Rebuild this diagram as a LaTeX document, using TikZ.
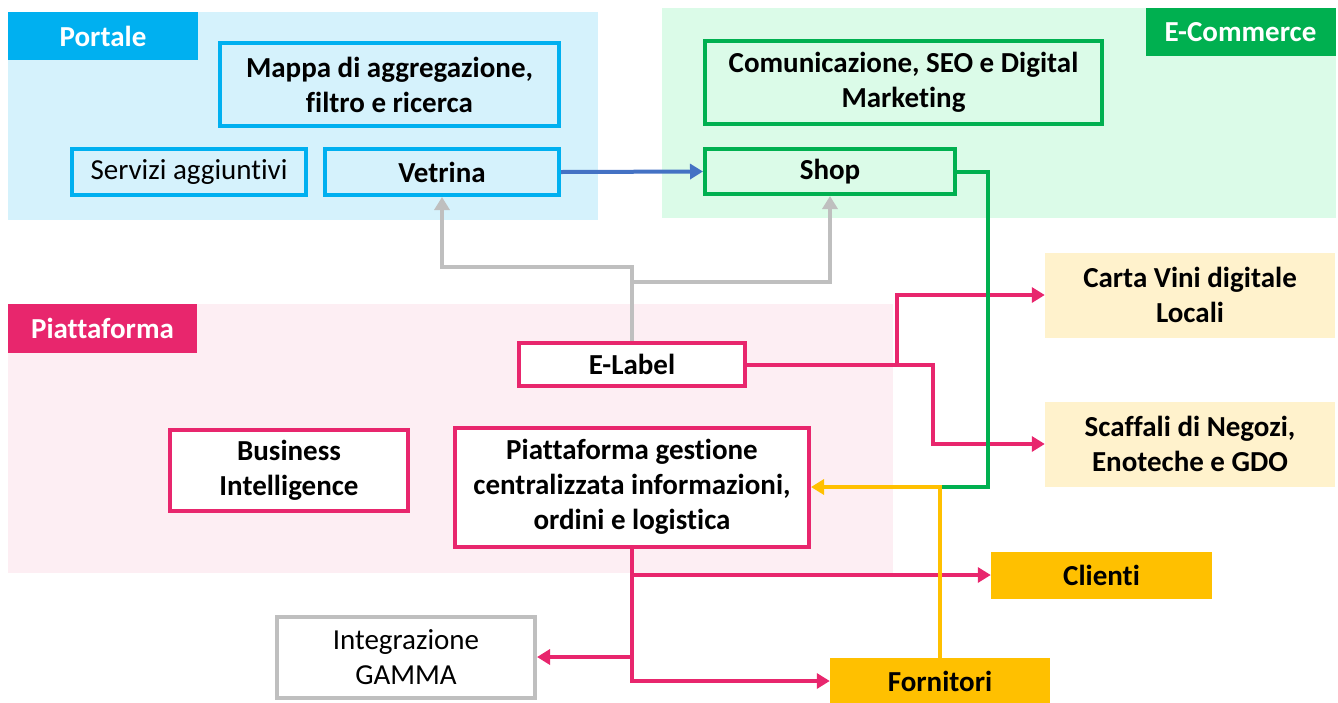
\documentclass[tikz,border=0pt]{standalone}
\usepackage{fontspec}
\setmainfont{Carlito}[Ligatures=NoCommon]
\usetikzlibrary{arrows.meta}
\definecolor{portbg}{HTML}{D5F2FC}
\definecolor{cyanc}{HTML}{00B0F0}
\definecolor{ecbg}{HTML}{DBFBE8}
\definecolor{greenc}{HTML}{00B050}
\definecolor{piabg}{HTML}{FDEEF3}
\definecolor{pinkc}{HTML}{E8266D}
\definecolor{lyellow}{HTML}{FFF2CC}
\definecolor{gold}{HTML}{FFC000}
\definecolor{grayc}{HTML}{BFBFBF}
\definecolor{bluec}{HTML}{4472C4}
\begin{document}
\begin{tikzpicture}[x=1pt,y=-1pt,
  font=\fontsize{29}{35}\selectfont,
  lbl/.style={fill=#1, draw=none, text=white, font=\fontsize{29}{35}\selectfont\bfseries, inner sep=0},
  box/.style={draw=#1, line width=4pt, align=center, inner sep=0, font=\fontsize{29}{35}\selectfont\bfseries},
  plainbox/.style={draw=#1, line width=4pt, align=center, inner sep=0},
  flat/.style={fill=#1, draw=none, align=center, inner sep=0, font=\fontsize{29}{35}\selectfont\bfseries},
  conn/.style={draw=#1, line width=4pt, -{Triangle[length=13pt,width=15pt]}},
  line/.style={draw=#1, line width=4pt}
]
\useasboundingbox (0,0) rectangle (1338,702);
% backgrounds
\fill[portbg] (8,12) rectangle (598,220);
\fill[ecbg] (662,8) rectangle (1336,218);
\fill[piabg] (8,304) rectangle (893,573);
% labels
\node[lbl=cyanc, minimum width=190pt, minimum height=48pt] (lportale) at (103,36) {Portale};
\node[lbl=greenc, minimum width=190pt, minimum height=48pt] (lecom) at (1240.5,32) {E-Commerce};
\node[lbl=pinkc, minimum width=189pt, minimum height=49pt] (lpiatt) at (102.5,328.5) {Piattaforma};
% portale boxes
\node[box=cyanc, fill=portbg, minimum width=339pt, minimum height=83pt] (mappa) at (389.5,84.5) {Mappa di aggregazione,\\filtro e ricerca};
\node[plainbox=cyanc, fill=portbg, minimum width=234pt, minimum height=46pt] (servizi) at (189,172) {Servizi aggiuntivi};
\node[box=cyanc, fill=portbg, minimum width=234pt, minimum height=46pt] (vetrina) at (442,172) {Vetrina};
% e-commerce boxes
\node[box=greenc, fill=ecbg, minimum width=397pt, minimum height=83pt] (comm) at (903.5,82.5) {Comunicazione, SEO e Digital\\Marketing};
\node[box=greenc, fill=ecbg, minimum width=250pt, minimum height=45pt] (shop) at (830,171.5) {Shop};
% piattaforma boxes
\node[box=pinkc, fill=white, minimum width=226pt, minimum height=43pt] (elabel) at (632,364.5) {E-Label};
\node[box=pinkc, fill=white, minimum width=238pt, minimum height=81pt] (bi) at (289,470.5) {Business\\Intelligence};
\node[box=pinkc, fill=white, minimum width=354pt, minimum height=119pt] (gest) at (632,487) {Piattaforma gestione\\centralizzata informazioni,\\ordini e logistica};
\node[plainbox=grayc, fill=white, minimum width=258pt, minimum height=81pt] (integr) at (406,657) {Integrazione\\GAMMA};
% right boxes
\node[flat=lyellow, minimum width=290pt, minimum height=85pt] (carta) at (1190,295) {Carta Vini digitale\\Locali};
\node[flat=lyellow, minimum width=290pt, minimum height=85pt] (scaff) at (1190,444) {Scaffali di Negozi,\\Enoteche e GDO};
\node[flat=gold, minimum width=221pt, minimum height=47pt] (clienti) at (1101.5,575) {Clienti};
\node[flat=gold, minimum width=220pt, minimum height=46pt] (fornit) at (940,681) {Fornitori};
% coordinates
\coordinate (gj) at (632,267);
\coordinate (gk) at (632,282);
\coordinate (eb1) at (897,364.5);
\coordinate (eb2) at (933,364.5);
\coordinate (gr1) at (988,171.5);
\coordinate (gr2) at (988,487);
\coordinate (yj) at (940,487);
\coordinate (pb1) at (632,575);
\coordinate (pb2) at (632,657);
% connectors
\draw[conn=bluec] (vetrina.east) -- (shop.west);
\draw[conn=grayc] (elabel.north) -- (gj) -| (vetrina.south);
\draw[conn=grayc] (gk) -| (shop.south);
\draw[conn=pinkc] (elabel.east) -- (eb1) |- (carta.west);
\draw[conn=pinkc] (eb1) -- (eb2) |- (scaff.west);
\draw[conn=pinkc] (gest.south) |- (fornit.west);
\draw[conn=pinkc] (pb1) -- (clienti.west);
\draw[conn=pinkc] (pb2) -- (integr.east);
\draw[line=greenc] (shop.east) -- (gr1) -- (gr2) -- (yj);
\draw[conn=gold] (fornit.north) -- (yj) -- (gest.east);
\end{tikzpicture}
\end{document}
